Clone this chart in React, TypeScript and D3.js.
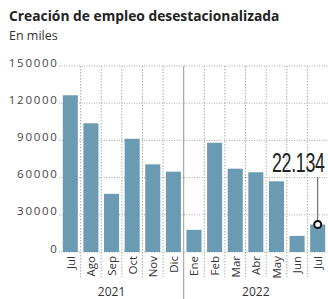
import { useRef, useEffect } from "react";
import * as d3 from "d3";

const months = ["Jul", "Ago", "Sep", "Oct", "Nov", "Dic", "Ene", "Feb", "Mar", "Abr", "May", "Jun", "Jul "];
const years = ["2021", "2022"];
// first month index of each year, and the month the year label sits under
const yearStart = [0, 6];
const yearLabelAt = [2, 9];
const values = [126400, 103800, 46900, 91300, 70700, 64800, 17900, 88100, 67200, 64300, 57000, 13000, 22134];
const yTicks = [0, 30000, 60000, 90000, 120000, 150000];

const title = "Creación de empleo desestacionalizada";
const subtitle = "En miles";

const width = 328;
const height = 299;

export default function App() {
  const ref = useRef<SVGSVGElement>(null);

  useEffect(() => {
    if (!ref.current) return;
    const svg = d3.select(ref.current);
    svg.selectAll("*").remove();

    const font = "'Open Sans', sans-serif";

    const x = d3
      .scaleBand<string>()
      .domain(months)
      .range([60, 328])
      .paddingInner(0.27)
      .paddingOuter(0.135);

    const y = d3.scaleLinear().domain([0, 150000]).range([252, 66]);

    // Title
    svg
      .append("text")
      .attr("x", 9)
      .attr("y", 21)
      .attr("font-family", font)
      .attr("font-weight", 700)
      .attr("font-size", 13.8)
      .attr("fill", "#222")
      .text(title);
    svg
      .append("text")
      .attr("x", 9)
      .attr("y", 40)
      .attr("font-family", font)
      .attr("font-size", 12.5)
      .attr("fill", "#333")
      .text(subtitle);

    // Horizontal grid
    const grid = svg.append("g");
    grid
      .selectAll("line")
      .data(yTicks)
      .join("line")
      .attr("x1", 59)
      .attr("x2", 328)
      .attr("y1", (d) => y(d))
      .attr("y2", (d) => y(d))
      .attr("stroke", "#aaa")
      .attr("stroke-width", 1)
      .attr("stroke-dasharray", "1 1.5");

    // Vertical dividers between months
    const step = x.step();
    const x0 = x.range()[0];
    const dividers = d3.range(1, months.length);
    grid
      .selectAll("line.v")
      .data(dividers)
      .join("line")
      .attr("class", "v")
      .attr("x1", (i) => x0 + i * step)
      .attr("x2", (i) => x0 + i * step)
      .attr("y1", y(150000))
      .attr("y2", (i) => (yearStart.includes(i) ? height : 277))
      .attr("stroke", (i) => (yearStart.includes(i) ? "#999" : "#aaa"))
      .attr("stroke-width", 1)
      .attr("stroke-dasharray", (i) => (yearStart.includes(i) ? null : "1.5 1.5"));

    // Y tick labels
    svg
      .append("g")
      .selectAll("text")
      .data(yTicks)
      .join("text")
      .attr("x", 58.5)
      .attr("y", (d) => y(d) + 0.5)
      .attr("text-anchor", "end")
      .attr("font-family", font)
      .attr("font-size", 11.5)
      .attr("letter-spacing", 1.7)
      .attr("fill", "#444")
      .text((d) => String(d));

    // Bars
    svg
      .append("g")
      .selectAll("rect")
      .data(values)
      .join("rect")
      .attr("x", (_, i) => x(months[i]) as number)
      .attr("y", (d) => y(d))
      .attr("width", x.bandwidth())
      .attr("height", (d) => y(0) - y(d))
      .attr("fill", "#6b9bb2");

    // Month labels
    svg
      .append("g")
      .selectAll("text")
      .data(months)
      .join("text")
      .attr(
        "transform",
        (d) => `translate(${(x(d) as number) + x.bandwidth() / 2},256) rotate(-90)`,
      )
      .attr("dy", "0.38em")
      .attr("text-anchor", "end")
      .attr("font-family", font)
      .attr("font-size", 11.5)
      .attr("fill", "#333")
      .text((d) => d.trim());

    // Year labels
    svg
      .append("g")
      .selectAll("text")
      .data(years)
      .join("text")
      .attr("x", (_, i) => (x(months[yearLabelAt[i]]) as number) + x.bandwidth() / 2)
      .attr("y", 296)
      .attr("text-anchor", "middle")
      .attr("font-family", font)
      .attr("font-size", 12)
      .attr("fill", "#333")
      .text((d) => d);

    // Annotation on the last bar
    const last = values.length - 1;
    const lx = (x(months[last]) as number) + x.bandwidth() / 2;
    const locale = d3.formatLocale({
      decimal: ",",
      thousands: ".",
      grouping: [3],
      currency: ["", ""],
    });
    svg
      .append("line")
      .attr("x1", lx)
      .attr("x2", lx)
      .attr("y1", 177)
      .attr("y2", y(values[last]))
      .attr("stroke", "#555")
      .attr("stroke-width", 1);
    svg
      .append("circle")
      .attr("cx", lx)
      .attr("cy", y(values[last]))
      .attr("r", 3.5)
      .attr("fill", "#fff")
      .attr("stroke", "#111")
      .attr("stroke-width", 2);
    // tall condensed figure: regular font stretched vertically
    svg
      .append("text")
      .attr("transform", "translate(272,172) scale(1,1.55)")
      .attr("font-family", "'Liberation Sans', Arial, sans-serif")
      .attr("font-size", 17.8)
      .attr("letter-spacing", -0.3)
      .attr("fill", "#222")
      .text(locale.format(",")(values[last]));
  }, []);

  return (
    <svg
      ref={ref}
      width={width}
      height={height}
      style={{ position: "absolute", left: 0, top: 0, background: "#fff" }}
    />
  );
}
